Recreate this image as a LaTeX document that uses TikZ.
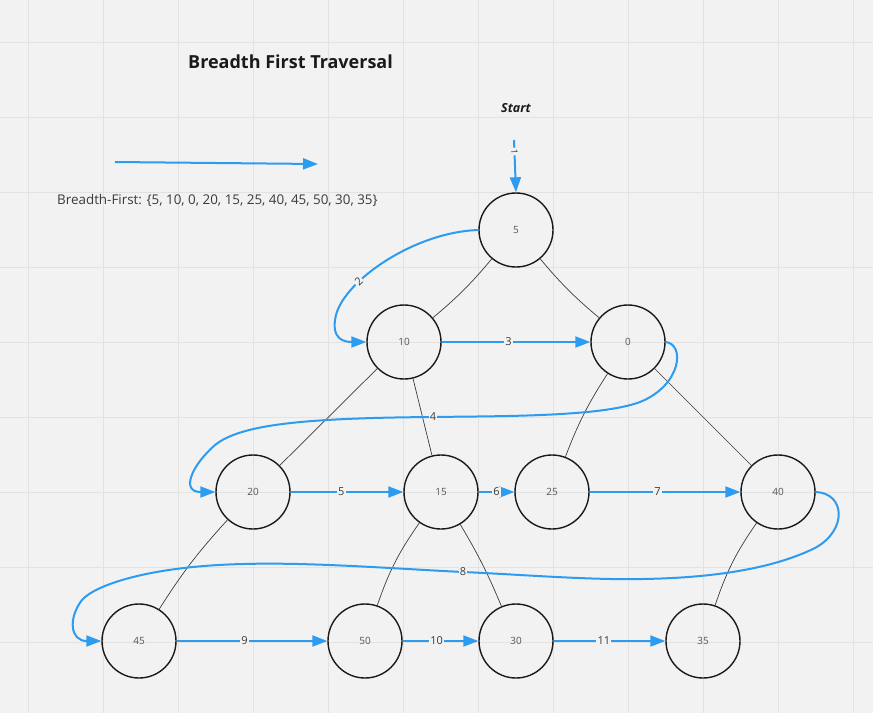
\documentclass[tikz,border=0pt]{standalone}
\usepackage{fontspec}
\setmainfont{Open Sans}
\usetikzlibrary{arrows.meta}
\definecolor{bg}{HTML}{F2F2F2}
\definecolor{gridc}{HTML}{E2E2E2}
\definecolor{mblue}{HTML}{2D9BF0}
\definecolor{ink}{HTML}{1A1A1A}
\definecolor{numc}{HTML}{555555}
\definecolor{txt}{HTML}{3A3A3A}
\begin{document}
\begin{tikzpicture}[x=1pt,y=-1pt,
  vertex/.style={circle,draw=ink,line width=1.4pt,minimum size=74pt,inner sep=0pt,
    font=\fontsize{10}{12}\selectfont,text=numc},
  treeedge/.style={draw=ink!85,line width=0.7pt},
  walk/.style={draw=mblue,line width=2pt,-{Triangle[length=15pt,width=11pt]}},
  steplabel/.style={fill=bg,inner sep=1.2pt,font=\fontsize{11}{13}\selectfont,text=txt},
]
% background and grid
\fill[bg] (0,0) rectangle (873,713);
\useasboundingbox (0,0) rectangle (873,713);
\foreach \gx in {28,103,...,853} \draw[gridc,line width=0.6pt] (\gx,0) -- (\gx,713);
\foreach \gy in {42,117,...,642} \draw[gridc,line width=0.6pt] (0,\gy) -- (873,\gy);

% texts
\node[font=\bfseries\fontsize{18}{22}\selectfont,text=ink] (title) at (290.5,62) {Breadth First Traversal};
\node[font=\bfseries\itshape\fontsize{12.5}{15}\selectfont,text=ink] (start) at (516,108) {Start};
\node[anchor=west,font=\fontsize{13.4}{16}\selectfont,text=txt,inner sep=0pt] (bft) at (57,200)
  {Breadth-First: \{5, 10, 0, 20, 15, 25, 40, 45, 50, 30, 35\}};

% legend arrow
\coordinate (la) at (115,162);
\coordinate (lb) at (318,164);
\draw[walk] (la) -- (lb);

% vertices
\node[vertex] (n5)  at (516,230) {5};
\node[vertex] (n10) at (404,342) {10};
\node[vertex] (n0)  at (628,342) {0};
\node[vertex] (n20) at (253,492) {20};
\node[vertex] (n15) at (441,492) {15};
\node[vertex] (n25) at (552,492) {25};
\node[vertex] (n40) at (778,492) {40};
\node[vertex] (n45) at (139,641) {45};
\node[vertex] (n50) at (365,641) {50};
\node[vertex] (n30) at (516,641) {30};
\node[vertex] (n35) at (703,641) {35};

% tree edges
\draw[treeedge] (n5) to[bend left=5] (n10);
\draw[treeedge] (n5) to[bend right=5] (n0);
\draw[treeedge] (n10) -- (n20);
\draw[treeedge] (n10) -- (n15);
\draw[treeedge] (n0) to[bend right=6] (n25);
\draw[treeedge] (n0) -- (n40);
\draw[treeedge] (n20) to[bend right=5] (n45);
\draw[treeedge] (n15) to[bend right=8] (n50);
\draw[treeedge] (n15) to[bend left=4] (n30);
\draw[treeedge] (n40) to[bend right=8] (n35);

% traversal
\coordinate (s1) at (514,140);
\draw[walk] (s1) -- node[steplabel,pos=0.22,sloped,font=\fontsize{9}{10}\selectfont]{1} (n5.north);
\draw[walk] (n5.west) .. controls (415,232) and (345,280) .. (336,315)
  node[steplabel,pos=0.7,sloped]{2}
  .. controls (330,340) and (345,342) .. (n10.west);
\draw[walk] (n10.east) -- node[steplabel,pos=0.45]{3} (n0.west);
\draw[walk] (n0.east) .. controls (685,344) and (682,385) .. (640,402)
  .. controls (600,417) and (500,416) .. (433,417)
  node[steplabel,pos=1]{4}
  .. controls (300,418) and (240,425) .. (215,445)
  .. controls (192,465) and (180,492) .. (n20.west);
\draw[walk] (n20.east) -- node[steplabel,pos=0.45]{5} (n15.west);
\draw[walk] (n15.east) -- node[steplabel]{6} (n25.west);
\draw[walk] (n25.east) -- node[steplabel,pos=0.45]{7} (n40.west);
\draw[walk] (n40.east) .. controls (845,493) and (848,530) .. (815,548)
  .. controls (760,575) and (680,580) .. (611,579)
  .. controls (560,578) and (510,574) .. (463,572)
  node[steplabel,pos=1]{8}
  .. controls (400,569) and (310,562) .. (244,564)
  .. controls (150,566) and (95,585) .. (82,600)
  .. controls (68,618) and (70,641) .. (n45.west);
\draw[walk] (n45.east) -- node[steplabel,pos=0.45]{9} (n50.west);
\draw[walk] (n50.east) -- node[steplabel,pos=0.45]{10} (n30.west);
\draw[walk] (n30.east) -- node[steplabel,pos=0.45]{11} (n35.west);
\end{tikzpicture}
\end{document}
